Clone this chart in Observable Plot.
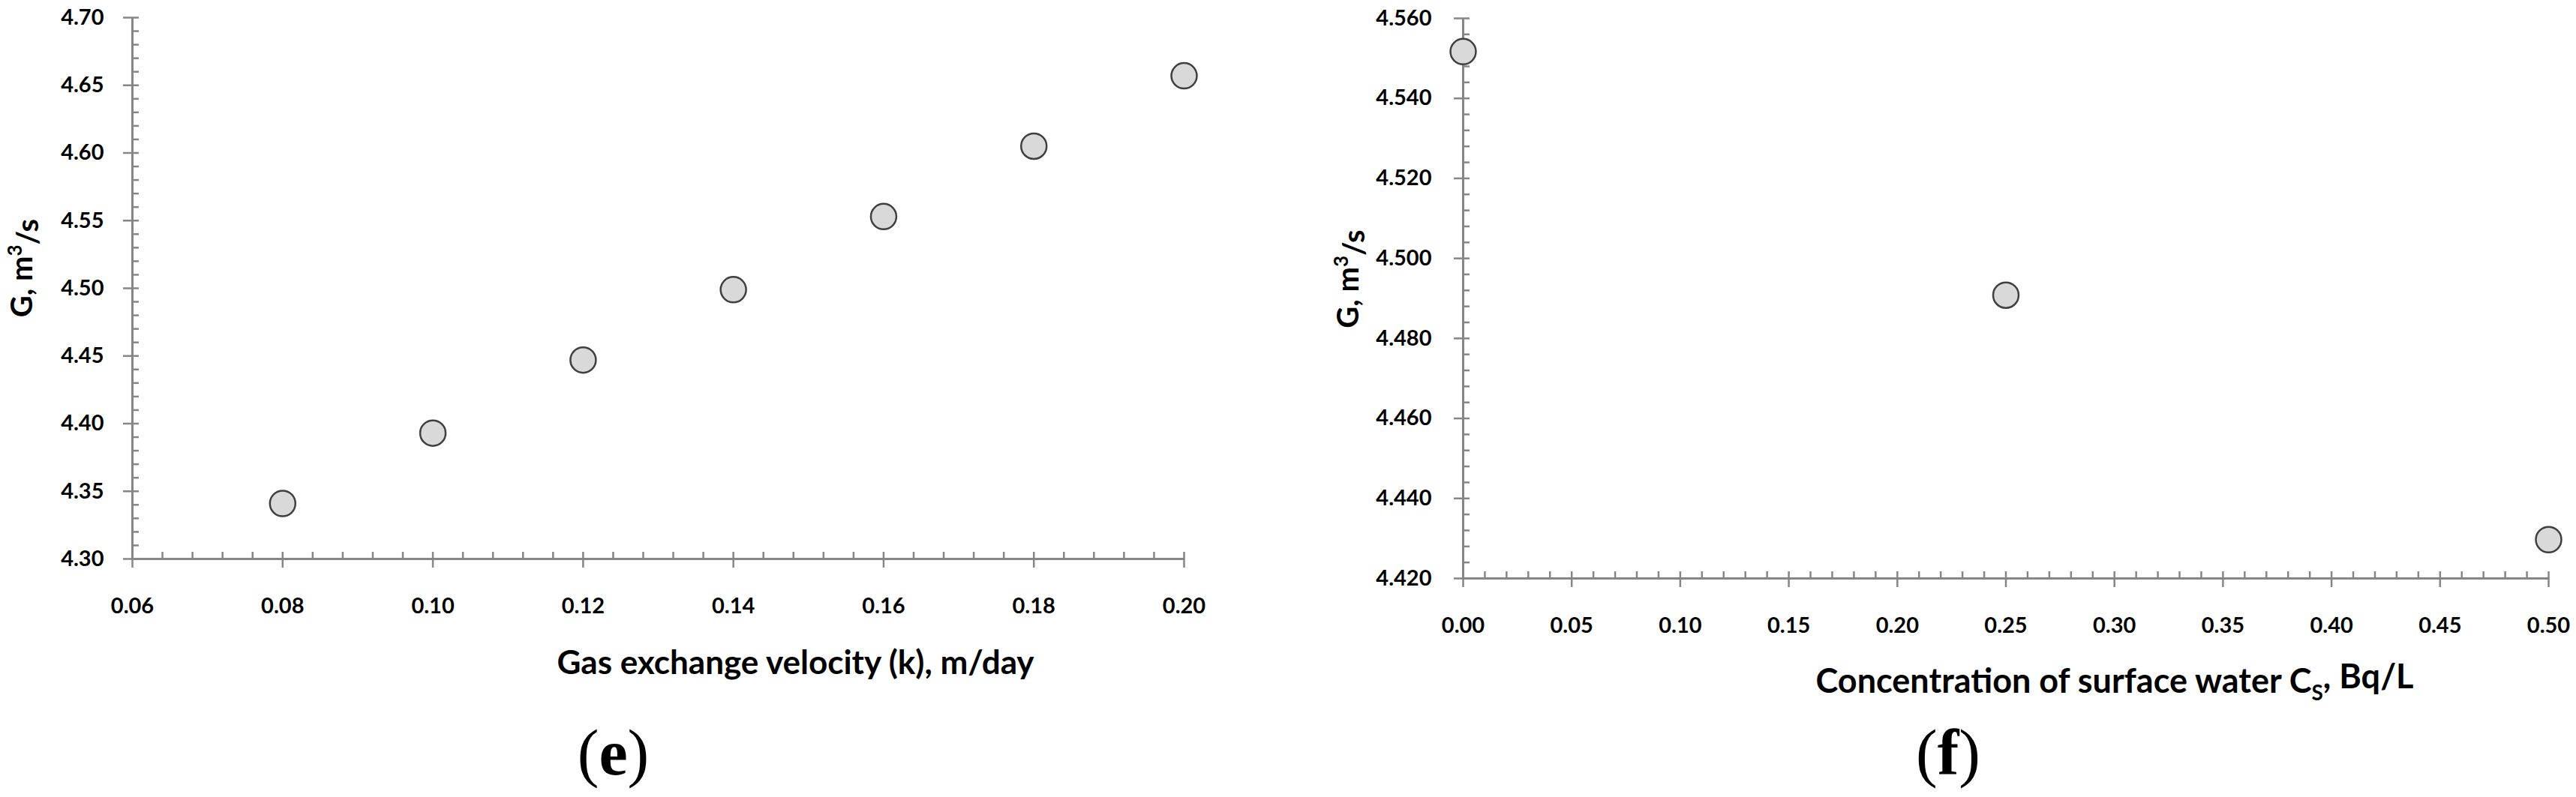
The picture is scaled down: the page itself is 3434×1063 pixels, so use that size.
<!DOCTYPE html>
<html>
<head>
<meta charset="utf-8">
<script src="https://cdn.jsdelivr.net/npm/d3@7"></script>
<script src="https://cdn.jsdelivr.net/npm/@observablehq/plot@0.6"></script>
<style>
  html, body { margin: 0; padding: 0; background: #fff; }
  #wrap { position: relative; width: 3434px; height: 1063px; background: #fff; overflow: hidden; }
  #wrap svg { position: absolute; top: 0; overflow: visible; }
</style>
</head>
<body>
<div id="wrap"></div>
<script>
// ---- Panel (e) data ----
const kValues = [0.08, 0.10, 0.12, 0.14, 0.16, 0.18, 0.20];
const gByK    = [4.341, 4.393, 4.447, 4.499, 4.553, 4.605, 4.657];
const kTicks  = [0.06, 0.08, 0.10, 0.12, 0.14, 0.16, 0.18, 0.20];
const gTicksE = [4.30, 4.35, 4.40, 4.45, 4.50, 4.55, 4.60, 4.65, 4.70];
const xTitleE = "Gas exchange velocity (k), m/day";
const panelE  = "(e)";

// ---- Panel (f) data ----
const csValues = [0.00, 0.25, 0.50];
const gByCs    = [4.5517, 4.4908, 4.4297];
const csTicks  = [0.00, 0.05, 0.10, 0.15, 0.20, 0.25, 0.30, 0.35, 0.40, 0.45, 0.50];
const gTicksF  = [4.420, 4.440, 4.460, 4.480, 4.500, 4.520, 4.540, 4.560];
const xTitleF  = "Concentration of surface water CS, Bq/L";
const panelF   = "(f)";

const yTitle = "G, m3/s";

const AXIS = "#868686";
const FONT = "Lato, 'Liberation Sans', sans-serif";

function minor(majors, n) {
  const out = [];
  for (let i = 0; i < majors.length - 1; i++) {
    const a = majors[i], b = majors[i + 1];
    for (let j = 1; j <= n; j++) out.push(a + (b - a) * j / (n + 1));
  }
  return out;
}

function panel({xs, ys, xTicks, yTicks, xFmt, yFmt, width, height, mL, mR, mT, mB,
                xTitle, xTitleSize, xTitleDx, xTitleDy, yTitleDx, yTitleDy, tag, tagDx, tagDy, yLabPad}) {
  const data = xs.map((x, i) => ({x, y: ys[i]}));
  const xd = [xTicks[0], xTicks[xTicks.length - 1]];
  const yd = [yTicks[0], yTicks[yTicks.length - 1]];
  return Plot.plot({
    width, height,
    marginLeft: mL, marginRight: mR, marginTop: mT, marginBottom: mB,
    x: {domain: xd},
    y: {domain: yd},
    style: {fontFamily: FONT, fontWeight: 700, color: "#000", background: "transparent", overflow: "visible"},
    marks: [
      Plot.ruleX([xd[0]], {stroke: AXIS, strokeWidth: 3}),
      Plot.ruleY([yd[0]], {stroke: AXIS, strokeWidth: 3}),
      // minor ticks (inside)
      Plot.axisX({ticks: minor(xTicks, 4), tickSize: 9, dy: -9, text: null, label: null, stroke: AXIS, strokeWidth: 2.5}),
      Plot.axisY({ticks: minor(yTicks, 4), tickSize: 9, dx: 9, text: null, label: null, stroke: AXIS, strokeWidth: 2.5}),
      // major ticks (crossing)
      Plot.axisX({ticks: xTicks, tickSize: 21, dy: -9, text: null, label: null, stroke: AXIS, strokeWidth: 2.5}),
      Plot.axisY({ticks: yTicks, tickSize: 21, dx: 9, text: null, label: null, stroke: AXIS, strokeWidth: 2.5}),
      // tick labels
      Plot.axisX({ticks: xTicks, tickSize: 0, tickPadding: 52, tickFormat: d3.format(xFmt), label: null, fontSize: 29, fill: "#000"}),
      Plot.axisY({ticks: yTicks, tickSize: 0, tickPadding: yLabPad, tickFormat: d3.format(yFmt), label: null, fontSize: 29, fill: "#000"}),
      // titles
      Plot.text([xTitle], {frameAnchor: "bottom", dx: xTitleDx, dy: xTitleDy, fontSize: xTitleSize, fontWeight: 700, textAnchor: "middle", lineAnchor: "middle", fill: "#000"}),
      Plot.text([yTitle], {frameAnchor: "left", dx: yTitleDx, dy: yTitleDy, rotate: -90, fontSize: 40, fontWeight: 700, textAnchor: "middle", lineAnchor: "middle", fill: "#000"}),
      Plot.text([tag], {frameAnchor: "bottom", dx: tagDx, dy: tagDy, fontSize: 86, fontWeight: 400, fontFamily: "'Liberation Serif', 'Times New Roman', serif", textAnchor: "middle", lineAnchor: "middle", fill: "#000"}),
      // data
      Plot.dot(data, {x: "x", y: "y", r: 17, fill: "#d9d9d9", stroke: "#404040", strokeWidth: 2.5})
    ]
  });
}

function richText(svg) {
  const s = d3.select(svg);
  s.selectAll("text").each(function () {
    const t = this.textContent;
    const el = d3.select(this);
    if (t === yTitle) {
      el.text(null);
      el.append("tspan").text("G, m");
      el.append("tspan").attr("font-size", 26).attr("dy", "-0.55em").text("3");
      el.append("tspan").attr("dy", "0.55em").text("/s");
    } else if (t === xTitleF) {
      el.text(null);
      el.append("tspan").text("Concentration of surface water C");
      el.append("tspan").attr("font-size", 28).attr("dy", "0.35em").text("S");
      el.append("tspan").attr("dy", "-0.35em").text(", Bq/L");
    } else if (t === panelE || t === panelF) {
      const letter = t.slice(1, -1);
      el.text(null);
      el.append("tspan").attr("font-weight", 400).text("(");
      el.append("tspan").attr("font-weight", 700).text(letter);
      el.append("tspan").attr("font-weight", 400).text(")");
    }
  });
}

const wrap = document.getElementById("wrap");

const svgE = panel({
  xs: kValues, ys: gByK, xTicks: kTicks, yTicks: gTicksE, xFmt: ".2f", yFmt: ".2f",
  width: 1700, height: 1063, mL: 176, mR: 122, mT: 23, mB: 318,
  xTitle: xTitleE, xTitleSize: 44, xTitleDx: 183, xTitleDy: 139,
  yTitleDx: -146, yTitleDy: -27,
  tag: panelE, tagDx: -60, tagDy: 260, yLabPad: 38
});
svgE.style.left = "0px";
richText(svgE);
wrap.appendChild(svgE);

const svgF = panel({
  xs: csValues, ys: gByCs, xTicks: csTicks, yTicks: gTicksF, xFmt: ".2f", yFmt: ".3f",
  width: 1734, height: 1063, mL: 250, mR: 37, mT: 24, mB: 292,
  xTitle: xTitleF, xTitleSize: 45, xTitleDx: 145, xTitleDy: 138,
  yTitleDx: -152, yTitleDy: -26,
  tag: panelF, tagDx: -77, tagDy: 234, yLabPad: 42
});
svgF.style.left = "1700px";
richText(svgF);
wrap.appendChild(svgF);
</script>
</body>
</html>
